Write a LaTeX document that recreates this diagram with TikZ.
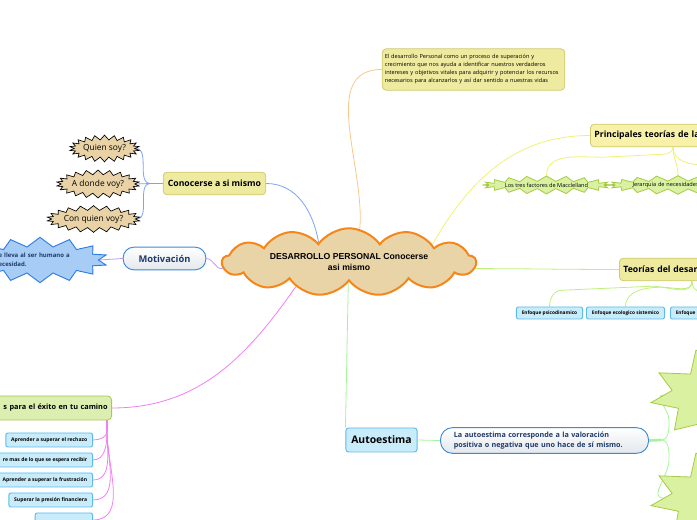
\documentclass[tikz,border=0pt]{standalone}
\usepackage{fontspec}
\setmainfont{Open Sans}
\newfontfamily\cloudfont{Liberation Sans}
\usetikzlibrary{shapes.symbols,backgrounds}
\definecolor{cloudfill}{HTML}{E9D4A7}
\definecolor{cloudline}{HTML}{F4861A}
\definecolor{topicfill}{HTML}{EEEA9F}
\definecolor{topicline}{HTML}{CFCB6E}
\definecolor{paletopic}{HTML}{F7F1AA}
\definecolor{exitofill}{HTML}{DCEFB0}
\definecolor{exitoline}{HTML}{A2CC50}
\definecolor{leaffill}{HTML}{C9ECFB}
\definecolor{leafline}{HTML}{5CBBEB}
\definecolor{pillline}{HTML}{3C8AD5}
\definecolor{pillshade}{HTML}{E3E7EC}
\definecolor{navytext}{HTML}{1F3A6A}
\definecolor{tanfill}{HTML}{E9D3A6}
\definecolor{greenfill}{HTML}{D9F1A0}
\definecolor{greenline}{HTML}{A5CB45}
\definecolor{bluefill}{HTML}{A7CDF7}
\definecolor{blueline}{HTML}{2F7DE2}
\definecolor{orangelink}{HTML}{F8C88A}
\definecolor{yellowlink}{HTML}{EEF272}
\definecolor{limelink}{HTML}{BFF07A}
\definecolor{bluelink}{HTML}{7EA2F4}
\definecolor{purplelink}{HTML}{BF9BF4}
\definecolor{magentalink}{HTML}{F27EF2}
\definecolor{greenlink}{HTML}{A4F59A}
\tikzset{
  topicbox/.style={draw=topicline, fill=topicfill, rounded corners=3pt, line width=0.6pt,
                   font=\fontsize{6.5}{8}\selectfont\bfseries, minimum height=17pt, inner xsep=3pt},
  leafbox/.style={draw=leafline, fill=leaffill, rounded corners=1.5pt, line width=0.7pt,
                  font=\fontsize{3.8}{4.4}\selectfont\bfseries, minimum height=10.5pt, inner xsep=4pt, inner ysep=1pt},
  pillbox/.style={draw=pillline, rounded corners=8pt, top color=white, bottom color=pillshade,
                  line width=0.7pt, text=navytext},
  tanburst/.style={starburst, starburst points=22, starburst point height=3.5pt, random starburst=0,
                   fill=tanfill, draw=black, line width=0.5pt, font=\fontsize{6.3}{7}\selectfont, inner sep=0pt},
  greenburst/.style={starburst, starburst point height=4pt, random starburst=0,
                     fill=greenfill, draw=greenline, line width=0.6pt, font=\fontsize{4.2}{5}\selectfont, inner sep=0pt},
  link/.style={line width=0.6pt},
}
\begin{document}
\begin{tikzpicture}[x=0.75pt,y=-0.75pt]
\useasboundingbox (0,0) rectangle (697,520);
\clip (0,0) rectangle (697,520);

% centro
\node[cloud, cloud puffs=13, cloud puff arc=110, aspect=5.5, fill=cloudfill, draw=cloudline, line width=1.5pt,
      minimum width=190pt, minimum height=34pt, inner sep=0pt, align=center,
      font=\cloudfont\fontsize{6.5}{8.5}\selectfont\bfseries] (cloud) at (349,262)
      {DESARROLLO PERSONAL Conocerse\\asi mismo};

% definicion
\node[draw=topicline, fill=topicfill, rounded corners=3pt, line width=0.6pt, text width=133pt, align=left,
      inner sep=2pt, minimum height=31pt, font=\fontsize{4.2}{6}\selectfont] (intro) at (473.5,69.5)
      {El desarrollo Personal como un proceso de superación y\\
       crecimiento que nos ayuda a identificar nuestros verdaderos\\
       intereses y objetivos vitales para adquirir y potenciar los recursos\\
       necesarios para alcanzarlos y así dar sentido a nuestras vidas};

% teorias
\node[topicbox, fill=paletopic, anchor=west, text width=100pt, align=left] (principales) at (590,135.5)
      {Principales teorías de la};
\node[greenburst, starburst points=20, minimum width=86pt, minimum height=13.5pt] (mcclelland) at (546.5,185)
      {Los tres factores de Macclelland};
\node[greenburst, starburst points=20, minimum width=85pt, minimum height=13.5pt, text width=68pt, align=left] (maslow) at (678,185)
      {Jerarquía de necesidades};
\coordinate (principalesout) at (705,165);

\node[topicbox, anchor=west, text width=100pt, align=left] (desarrollo) at (619,269.5)
      {Teorías del desar};
\node[leafbox, minimum width=46pt, minimum height=9pt, font=\fontsize{3.6}{4.2}\selectfont\bfseries] (psicodinamico) at (549.5,313) {Enfoque psicodinamico};
\node[leafbox, minimum width=56pt, minimum height=9pt, font=\fontsize{3.6}{4.2}\selectfont\bfseries] (ecologico) at (625.5,313) {Enfoque ecologico sistemico};
\node[leafbox, anchor=west, text width=50pt, align=left, minimum height=9pt, font=\fontsize{3.6}{4.2}\selectfont\bfseries] (enfoque) at (670,313) {Enfoque};

% conocerse
\node[topicbox, minimum width=77pt] (conocerse) at (214.5,183.5) {Conocerse a si mismo};
\node[tanburst, minimum width=49pt, minimum height=20pt] (quien) at (104.5,148.5) {Quien soy?};
\node[tanburst, minimum width=58pt, minimum height=21pt] (donde) at (98,184) {A donde voy?};
\node[tanburst, minimum width=65pt, minimum height=20pt] (conquien) at (93.5,219) {Con quien voy?};

% motivacion
\node[pillbox, minimum width=62pt, minimum height=17pt, font=\fontsize{7}{8}\selectfont\bfseries] (motivacion) at (164.5,258.5)
      {Motivación};
\node[starburst, starburst points=14, starburst point height=7pt, random starburst=0, fill=bluefill, draw=blueline,
      line width=0.7pt, text=navytext, text width=62pt, align=left, minimum width=80pt, minimum height=34pt,
      inner sep=0pt, font=\fontsize{4.5}{7}\selectfont\bfseries] (necesidad) at (40,260)
      {e lleva al ser humano a\\ecesidad.};

% exito
\node[draw=exitoline, fill=exitofill, rounded corners=3pt, line width=0.6pt, anchor=east, text width=112pt, align=right,
      minimum height=18pt, inner xsep=3pt, font=\fontsize{5.5}{7}\selectfont\bfseries] (exito) at (112,408)
      {s para el éxito en tu camino};
\coordinate (exitosplit) at (107,431);
\node[leafbox, anchor=east] (rechazo) at (93,440) {Aprender a superar el rechazo};
\node[leafbox, anchor=east] (recibir) at (93,460) {re mas de lo que se espera recibir};
\node[leafbox, anchor=east] (frustracion) at (93,480) {Aprender a superar la frustración};
\node[leafbox, anchor=east] (financiera) at (93,500) {Superar la presión financiera};
\node[leafbox, anchor=east, minimum width=43pt] (ultimo) at (93,520) {};

% autoestima
\node[leafbox, minimum width=50pt, minimum height=18pt, rounded corners=2pt,
      font=\fontsize{7.8}{9}\selectfont\bfseries] (autoestima) at (381.5,440) {Autoestima};
\node[pillbox, minimum width=155pt, minimum height=19pt, rounded corners=9pt, text width=136pt, align=left,
      inner xsep=10pt, font=\fontsize{5.4}{7.2}\selectfont\bfseries] (valoracion) at (544.5,440.5)
      {La autoestima corresponde a la valoración\\positiva o negativa que uno hace de sí mismo.};
\coordinate (autosplit) at (661,440);
\node[greenburst, starburst points=11, starburst point height=16pt, minimum width=150pt, minimum height=80pt] (autouno) at (750,395) {};
\node[greenburst, starburst points=11, starburst point height=16pt, minimum width=150pt, minimum height=80pt] (autodos) at (750,498) {};

% conectores
\begin{scope}[on background layer]
\draw[link, orangelink] (cloud.72) to[out=85, in=180] (intro.west);
\draw[link, yellowlink] (cloud.12) to[out=60, in=180] (principales.west);
\draw[link, yellowlink] (principales.south west) ++(83,0) coordinate (principalessplit);
\draw[link, yellowlink] (principalessplit) to[out=-90, in=0] ++(-10,7) -- ++(-60,3) to[out=180, in=90] (mcclelland.north);
\draw[link, yellowlink] (principalessplit) to[out=-90, in=90] (maslow.north);
\draw[link, yellowlink] (principalessplit) to[out=-90, in=180] (principalesout);
\draw[link, limelink] (cloud.-3) to[out=0, in=180] (desarrollo.west);
\draw[link, limelink] (desarrollo.south west) ++(73,0) coordinate (desarrollosplit);
\draw[link, limelink] (desarrollosplit) to[out=-90, in=0] ++(-40,5) -- ++(-90,4) to[out=180, in=90] (psicodinamico.north);
\draw[link, limelink] (desarrollosplit) to[out=-90, in=0] ++(-30,6) to[out=180, in=90] (ecologico.north);
\draw[link, limelink] (desarrollosplit) to[out=-90, in=100] (enfoque.north east);
\draw[link, bluelink] (cloud.147) to[out=100, in=0] (conocerse.east);
\draw[link, bluelink] (conocerse.west) -- ++(-12,0) coordinate (conocersesplit);
\draw[link, bluelink] (conocersesplit) to[out=180, in=0] (quien.east);
\draw[link, bluelink] (conocersesplit) -- (donde.east);
\draw[link, bluelink] (conocersesplit) to[out=180, in=0] (conquien.east);
\draw[link, purplelink] (cloud.183) to[out=190, in=0] (motivacion.east);
\draw[link, purplelink] (motivacion.west) -- (necesidad.east);
\draw[link, magentalink] (cloud.205) to[out=235, in=0] (exito.east);
\draw[magentalink, line width=2pt] (exito.south east) ++(-5,0) -- (exitosplit);
\foreach \leaf in {rechazo, recibir, frustracion, financiera, ultimo}
  \draw[link, magentalink] (exitosplit) to[out=-90, in=0] (\leaf.east);
\draw[link, greenlink] (cloud.268) -- (autoestima.north west);
\draw[link, greenlink] (autoestima.east) -- (valoracion.west);
\draw[greenlink, line width=2pt] (valoracion.east) -- (autosplit);
\draw[link, greenlink] (autosplit) to[out=0, in=-90] ++(8,-20) to[out=90, in=180] (autouno.west);
\draw[link, greenlink] (autosplit) to[out=0, in=90] ++(8,20) to[out=-90, in=180] (autodos.west);
\end{scope}
\end{tikzpicture}
\end{document}
